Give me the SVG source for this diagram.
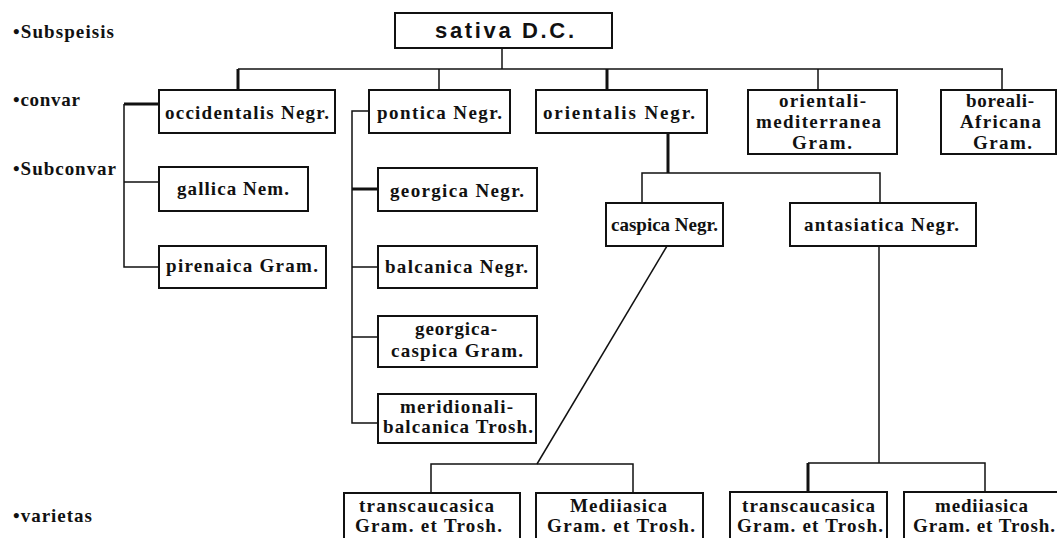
<svg xmlns="http://www.w3.org/2000/svg" width="1057" height="538" viewBox="0 0 1057 538">
<style>
.bg{fill:#fff}
.box{fill:#fff;stroke:#111;stroke-width:2}
.t{font-family:"Liberation Serif","Times New Roman",serif;font-weight:bold;font-size:19px;fill:#111;text-anchor:middle}
.lab{font-family:"Liberation Serif","Times New Roman",serif;font-weight:bold;font-size:19px;fill:#111}
.top{font-family:"Liberation Sans",Arial,sans-serif;font-weight:bold;font-size:22px;fill:#111;text-anchor:middle}
.ln{fill:none;stroke:#111;stroke-width:1.5}
.thk{fill:none;stroke:#111;stroke-width:3}
</style>
<rect class="bg" x="0" y="0" width="1057" height="538"/>
<g id="labels">
<text class="lab" x="13" y="38" textLength="101" lengthAdjust="spacing">•Subspeisis</text>
<text class="lab" x="13" y="106" textLength="67" lengthAdjust="spacing">•convar</text>
<text class="lab" x="13" y="175" textLength="103" lengthAdjust="spacing">•Subconvar</text>
<text class="lab" x="13" y="522" textLength="79" lengthAdjust="spacing">•varietas</text>
</g>
<g id="connectors">
<path class="ln" d="M502,48 V69"/>
<path class="ln" d="M238,69 H1003"/>
<path class="thk" d="M238,69 V90"/>
<path class="ln" d="M439,69 V90"/>
<path class="thk" d="M607,69 V90"/>
<path class="ln" d="M818,69 V90"/>
<path class="ln" d="M1002,69 V90"/>
<path class="thk" d="M159,104 H124"/>
<path class="ln" d="M124,104 V267 H159 M124,182 H159"/>
<path class="ln" d="M369,111 H352 V423 H378 M352,267 H378 M352,337 H378"/>
<path class="thk" d="M352,189 H378"/>
<path class="thk" d="M668,133 V173"/>
<path class="ln" d="M642,203 V173 H880 V203"/>
<path class="ln" d="M667,246 L537,464"/>
<path class="ln" d="M431,493 V464 H633 V493"/>
<path class="ln" d="M879,246 V463"/>
<path class="ln" d="M808,463 H985 V492"/>
<path class="thk" d="M808,463 V492"/>
</g>
<g id="sativa">
<rect class="box" x="395" y="13" width="217" height="35"/>
<text class="top" x="504.5" y="38" textLength="139" lengthAdjust="spacing">sativa D.C.</text>
</g>
<g id="occidentalis">
<rect class="box" x="159" y="90" width="176" height="43"/>
<text class="t" x="247" y="119" textLength="164" lengthAdjust="spacing">occidentalis Negr.</text>
</g>
<g id="pontica">
<rect class="box" x="369" y="90" width="141" height="43"/>
<text class="t" x="439.5" y="119" textLength="125" lengthAdjust="spacing">pontica Negr.</text>
</g>
<g id="orientalis">
<rect class="box" x="536" y="90" width="171" height="43"/>
<text class="t" x="619" y="119" textLength="152" lengthAdjust="spacing">orientalis Negr.</text>
</g>
<g id="orientali-mediterranea">
<rect class="box" x="748" y="90" width="149" height="64"/>
<text class="t" x="822.5" y="107" textLength="87" lengthAdjust="spacing">orientali-</text>
<text class="t" x="818.5" y="128" textLength="125" lengthAdjust="spacing">mediterranea</text>
<text class="t" x="822" y="149" textLength="60" lengthAdjust="spacing">Gram.</text>
</g>
<g id="boreali-africana">
<rect class="box" x="941" y="90" width="115" height="64"/>
<text class="t" x="1000" y="107" textLength="68" lengthAdjust="spacing">boreali-</text>
<text class="t" x="1000.5" y="128" textLength="81" lengthAdjust="spacing">Africana</text>
<text class="t" x="1002.5" y="149" textLength="59" lengthAdjust="spacing">Gram.</text>
</g>
<g id="gallica">
<rect class="box" x="159" y="167" width="149" height="44"/>
<text class="t" x="233" y="195" textLength="112" lengthAdjust="spacing">gallica Nem.</text>
</g>
<g id="pirenaica">
<rect class="box" x="159" y="246" width="167" height="42"/>
<text class="t" x="242" y="272" textLength="152" lengthAdjust="spacing">pirenaica Gram.</text>
</g>
<g id="georgica">
<rect class="box" x="378" y="168" width="159" height="43"/>
<text class="t" x="457" y="197" textLength="134" lengthAdjust="spacing">georgica Negr.</text>
</g>
<g id="balcanica">
<rect class="box" x="378" y="246" width="159" height="42"/>
<text class="t" x="456.5" y="273" textLength="143" lengthAdjust="spacing">balcanica Negr.</text>
</g>
<g id="georgica-caspica">
<rect class="box" x="378" y="316" width="159" height="51"/>
<text class="t" x="456" y="335" textLength="82" lengthAdjust="spacing">georgica-</text>
<text class="t" x="457" y="357" textLength="132" lengthAdjust="spacing">caspica Gram.</text>
</g>
<g id="meridionali-balcanica">
<rect class="box" x="378" y="394" width="158" height="49"/>
<text class="t" x="456.5" y="413" textLength="113" lengthAdjust="spacing">meridionali-</text>
<text class="t" x="458" y="433" textLength="150" lengthAdjust="spacing">balcanica Trosh.</text>
</g>
<g id="caspica">
<rect class="box" x="606" y="203" width="117" height="43"/>
<text class="t" x="664.5" y="231">caspica Negr.</text>
</g>
<g id="antasiatica">
<rect class="box" x="790" y="203" width="186" height="43"/>
<text class="t" x="881.5" y="231" textLength="155" lengthAdjust="spacing">antasiatica Negr.</text>
</g>
<g id="transcaucasica-1">
<rect class="box" x="344" y="493" width="176" height="55"/>
<text class="t" x="426.5" y="512" textLength="135" lengthAdjust="spacing">transcaucasica</text>
<text class="t" x="428.5" y="532" textLength="147" lengthAdjust="spacing">Gram. et Trosh.</text>
</g>
<g id="mediiasica-1">
<rect class="box" x="536" y="493" width="167" height="55"/>
<text class="t" x="618.5" y="512" textLength="97" lengthAdjust="spacing">Mediiasica</text>
<text class="t" x="621" y="532" textLength="148" lengthAdjust="spacing">Gram. et Trosh.</text>
</g>
<g id="transcaucasica-2">
<rect class="box" x="730" y="492" width="157" height="56"/>
<text class="t" x="808.5" y="512" textLength="133" lengthAdjust="spacing">transcaucasica</text>
<text class="t" x="810" y="532" textLength="146" lengthAdjust="spacing">Gram. et Trosh.</text>
</g>
<g id="mediiasica-2">
<rect class="box" x="904" y="492" width="160" height="56"/>
<text class="t" x="981.5" y="512" textLength="93" lengthAdjust="spacing">mediiasica</text>
<text class="t" x="984" y="532" textLength="142" lengthAdjust="spacing">Gram. et Trosh.</text>
</g>
</svg>
